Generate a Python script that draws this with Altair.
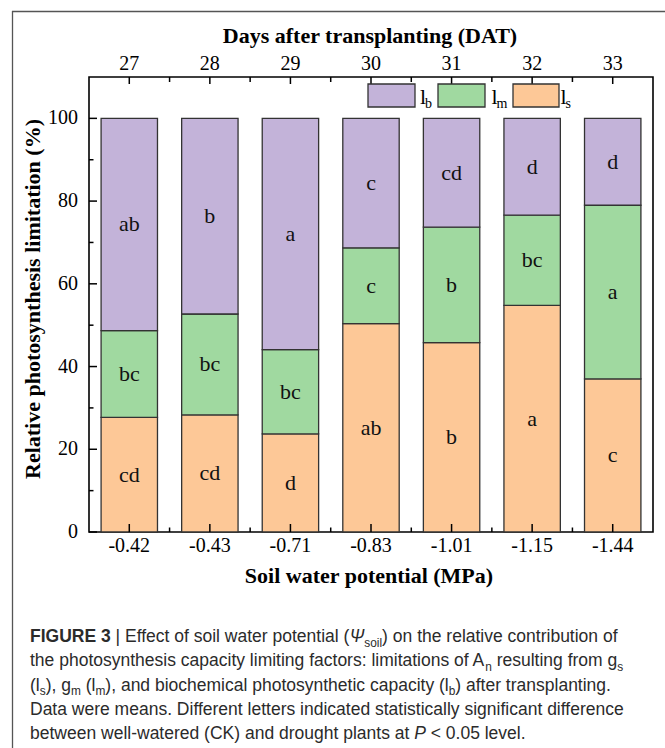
import altair as alt
import pandas as pd

# ---------------- data ----------------
soil_labels = ["-0.42", "-0.43", "-0.71", "-0.83", "-1.01", "-1.15", "-1.44"]
dat_labels = ["27", "28", "29", "30", "31", "32", "33"]
ls_vals = [27.7, 28.3, 23.7, 50.4, 45.8, 54.8, 37.0]
lm_vals = [21.0, 24.4, 20.4, 18.3, 27.9, 21.8, 42.0]
lb_vals = [51.3, 47.3, 55.9, 31.3, 26.3, 23.4, 21.0]
ls_letters = ["cd", "cd", "d", "ab", "b", "a", "c"]
lm_letters = ["bc", "bc", "bc", "c", "b", "bc", "a"]
lb_letters = ["ab", "b", "a", "c", "cd", "d", "d"]
y_major = [0, 20, 40, 60, 80, 100]
y_minor = [10, 30, 50, 70, 90]
series = ["ls", "lm", "lb"]
colors = ["#fdc897", "#a0d9a0", "#c3b3d9"]

W, H = 564, 455
SERIF = "Liberation Serif"
SANS = "Liberation Sans"

rows = []
for i in range(len(soil_labels)):
    base = 0.0
    for s, vals, lets in zip(series, [ls_vals, lm_vals, lb_vals],
                             [ls_letters, lm_letters, lb_letters]):
        v = vals[i]
        rows.append(dict(i=i, x0=i - 0.35, x1=i + 0.35, series=s, y0=base,
                         y1=base + v, ymid=base + v / 2, letter=lets[i]))
        base += v
df = pd.DataFrame(rows)
cat_df = pd.DataFrame({"i": list(range(len(soil_labels))), "soil": soil_labels, "dat": dat_labels})

xs = alt.Scale(domain=[-0.5, 6.5], nice=False, zero=False)
ys = alt.Scale(domain=[0, 110], nice=False, zero=False)
cscale = alt.Scale(domain=series, range=colors)

layers = []

bars = alt.Chart(df).mark_bar(stroke="#333333", strokeWidth=1.3, opacity=1).encode(
    x=alt.X("x0:Q", scale=xs, axis=None), x2="x1:Q",
    y=alt.Y("y0:Q", scale=ys, axis=None), y2="y1:Q",
    color=alt.Color("series:N", scale=cscale, legend=None))
layers.append(bars)

letters = alt.Chart(df).mark_text(font=SERIF, fontSize=22, baseline="middle", color="#111").encode(
    x=alt.X("i:Q", scale=xs, axis=None), y=alt.Y("ymid:Q", scale=ys, axis=None), text="letter:N")
layers.append(letters)

# y ticks (inward)
ymaj = pd.DataFrame({"v": y_major})
ymin = pd.DataFrame({"v": y_minor})
layers.append(alt.Chart(ymaj).mark_rule(color="black", strokeWidth=1.5).encode(
    y=alt.Y("v:Q", scale=ys, axis=None), x=alt.value(0), x2=alt.value(8)))
layers.append(alt.Chart(ymin).mark_rule(color="black", strokeWidth=1.5).encode(
    y=alt.Y("v:Q", scale=ys, axis=None), x=alt.value(0), x2=alt.value(4.5)))
layers.append(alt.Chart(ymaj).mark_text(font=SERIF, fontSize=20, align="right", baseline="middle", color="black").encode(
    y=alt.Y("v:Q", scale=ys, axis=None), x=alt.value(-11), text="v:Q"))

# x ticks bottom and top
for y_a, y_b_maj, y_b_min in [(H, H - 8, H - 4.5), (0, 7, 5)]:
    layers.append(alt.Chart(cat_df).mark_rule(color="black", strokeWidth=1.5).encode(
        x=alt.X("i:Q", scale=xs, axis=None), y=alt.value(y_a), y2=alt.value(y_b_maj)))
    layers.append(alt.Chart(cat_df).transform_filter("datum.i < 6").transform_calculate(
        m="datum.i + 0.5").mark_rule(color="black", strokeWidth=1.5).encode(
        x=alt.X("m:Q", scale=xs, axis=None), y=alt.value(y_a), y2=alt.value(y_b_min)))

layers.append(alt.Chart(cat_df).mark_text(font=SERIF, fontSize=20, baseline="middle", color="black").encode(
    x=alt.X("i:Q", scale=xs, axis=None), y=alt.value(469), text="soil:N"))
layers.append(alt.Chart(cat_df).mark_text(font=SERIF, fontSize=20, baseline="middle", color="black").encode(
    x=alt.X("i:Q", scale=xs, axis=None), y=alt.value(-13), text="dat:N"))

# titles
def const_text(t, x, y, **kw):
    return alt.Chart(pd.DataFrame({"t": [t]})).mark_text(**kw).encode(
        text="t:N", x=alt.value(x), y=alt.value(y))

layers.append(const_text("Days after transplanting (DAT)", W / 2 - 1, -41, font=SERIF, fontSize=22,
                         fontWeight="bold", baseline="middle", color="black"))
layers.append(const_text("Soil water potential (MPa)", W / 2 - 2, 499, font=SERIF, fontSize=22,
                         fontWeight="bold", baseline="middle", color="black"))
layers.append(const_text("Relative photosynthesis limitation (%)", -56, 222, font=SERIF, fontSize=22,
                         fontWeight="bold", baseline="middle", angle=270, color="black"))

# legend
leg = [("lb", "b", 279, 326, 331), ("lm", "m", 349, 396, 402.5), ("ls", "s", 424, 470, 471.5)]
for s, sub, bx0, bx1, lx in leg:
    layers.append(alt.Chart(pd.DataFrame({"series": [s]})).mark_rect(
        stroke="#333333", strokeWidth=1.3, opacity=1).encode(
        x=alt.value(bx0), x2=alt.value(bx1), y=alt.value(7), y2=alt.value(30),
        color=alt.Color("series:N", scale=cscale, legend=None)))
    layers.append(const_text("l", lx, 27.3, font=SERIF, fontSize=22, align="left",
                             baseline="alphabetic", color="black"))
    layers.append(const_text(sub, lx + 5, 31, font=SERIF, fontSize=14, align="left",
                             baseline="alphabetic", color="black"))

# outer figure frame
layers.append(alt.Chart(pd.DataFrame({"a": [0]})).mark_rule(color="#555555", strokeWidth=1.3).encode(
    x=alt.value(-77), x2=alt.value(W + 20), y=alt.value(-65.5)))
layers.append(alt.Chart(pd.DataFrame({"a": [0]})).mark_rule(color="#555555", strokeWidth=1.3).encode(
    x=alt.value(-76.5), y=alt.value(-66), y2=alt.value(H + 240)))

# caption (segments with subscripts)
chars = " !\"#$%&'()*+,-./"
AR = dict(zip(chars, [278, 278, 355, 556, 556, 889, 667, 191, 333, 333, 389, 584, 278, 333, 278, 278]))
AR.update({d: 556 for d in "0123456789"})
AR.update(dict(zip(":;<=>?", [278, 278, 584, 584, 584, 556])))
AR.update(dict(zip("ABCDEFGHIJKLMNOPQRSTUVWXYZ",
                   [667, 667, 722, 722, 667, 611, 778, 722, 278, 500, 667, 556, 833, 722, 778, 667,
                    778, 722, 667, 611, 722, 667, 944, 667, 667, 611])))
AR.update(dict(zip("abcdefghijklmnopqrstuvwxyz",
                   [556, 556, 500, 556, 556, 278, 556, 556, 222, 222, 500, 222, 833, 556, 556, 556,
                    556, 333, 500, 278, 556, 500, 722, 500, 500, 500])))
AR.update({"|": 260, "Ψ": 834})
ARB = dict(AR)
ARB.update({"F": 611, "I": 278, "G": 778, "U": 722, "R": 722, "E": 667, " ": 278, "3": 556})

FS = 17.5
SUB = 0.68 * FS

def seg_width(t, style):
    tbl = ARB if style == "b" else AR
    size = SUB if style == "sub" else FS
    return sum(tbl.get(c, 556) for c in t) / 1000 * size

caption = [
    [("FIGURE 3", "b"), (" | Effect of soil water potential (", "n"), ("Ψ", "i"), ("soil", "sub"),
     (") on the relative contribution of", "n")],
    [("the photosynthesis capacity limiting factors: limitations of A", "n"), ("n", "sub"),
     (" resulting from g", "n"), ("s", "sub")],
    [("(l", "n"), ("s", "sub"), ("), g", "n"), ("m", "sub"), (" (l", "n"), ("m", "sub"),
     ("), and biochemical photosynthetic capacity (l", "n"), ("b", "sub"), (") after transplanting.", "n")],
    [("Data were means. Different letters indicated statistically significant difference", "n")],
    [("between well-watered (CK) and drought plants at ", "n"), ("P", "i"), (" < 0.05 level.", "n")],
]
cap_rows = []
x_start = 30 - 89
base_y = 642 - 77
for li, line in enumerate(caption):
    x = x_start
    y = base_y + li * 24.3
    for t, st in line:
        lead = len(t) - len(t.lstrip(" "))
        core = t.strip(" ")
        tx = x + seg_width(" " * lead, st)
        cap_rows.append(dict(t=core, st=st, px=tx, py=y + (4.5 if st == "sub" else 0)))
        x += seg_width(t, st)
cap = pd.DataFrame(cap_rows)

styles = {"n": dict(fontSize=FS), "b": dict(fontSize=FS, fontWeight="bold"),
          "i": dict(fontSize=FS, fontStyle="italic"), "sub": dict(fontSize=SUB)}
for st, kw in styles.items():
    layers.append(alt.Chart(cap).transform_filter(f"datum.st == '{st}'").mark_text(
        font=SANS, align="left", baseline="alphabetic", color="#2b2b2b", **kw).encode(
        x=alt.X("px:Q", scale=None), y=alt.Y("py:Q", scale=None), text="t:N"))

chart = alt.layer(*layers).properties(
    width=W, height=H,
    autosize=alt.AutoSizeParams(type="none"),
    padding={"left": 89, "top": 77, "right": 12, "bottom": 216},
    background="white",
).configure_view(stroke="black", strokeWidth=1.6)

chart.save("out.html", embed_options={"renderer": "svg", "actions": False})
